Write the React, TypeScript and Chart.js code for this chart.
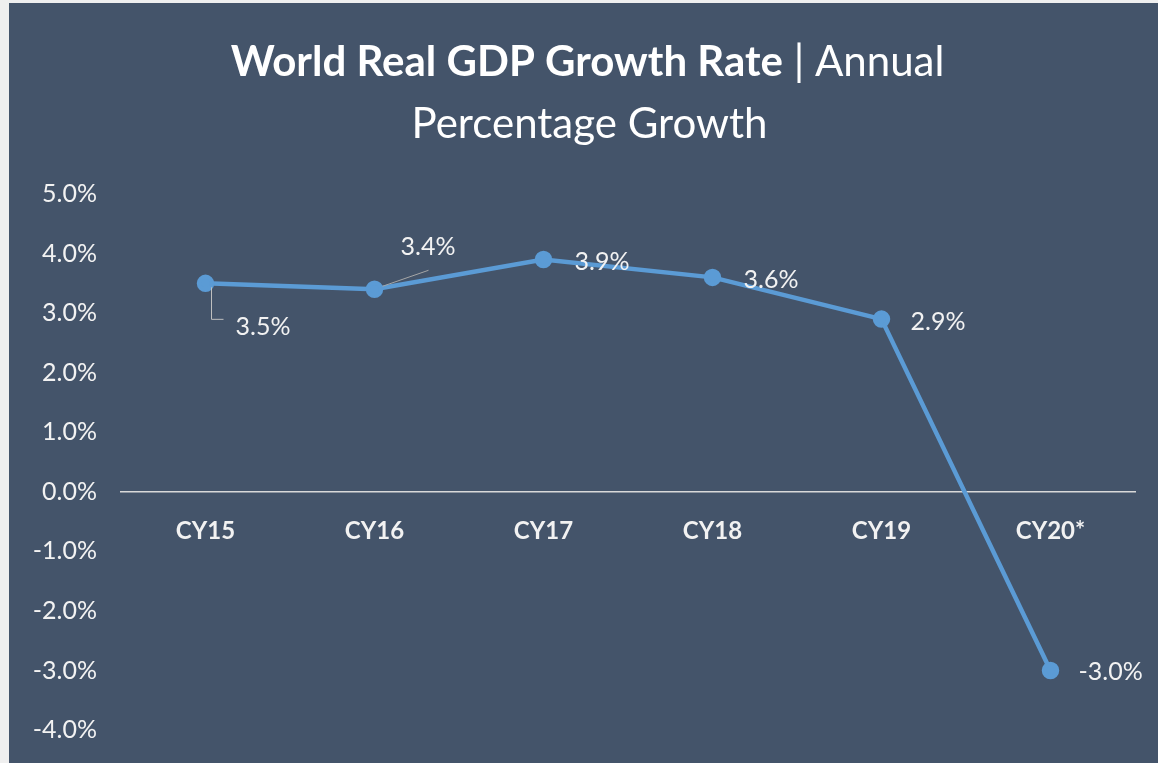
import React, { useEffect, useRef } from "react";
import { Chart, registerables } from "chart.js";

Chart.register(...registerables);

const categories = ["CY15", "CY16", "CY17", "CY18", "CY19", "CY20*"];
const growth = [3.5, 3.4, 3.9, 3.6, 2.9, -3.0];
const yTicks = [5, 4, 3, 2, 1, 0, -1, -2, -3, -4];

const TITLE_BOLD = "World Real GDP Growth Rate";
const TITLE_REST = " | Annual";
const TITLE_LINE2 = "Percentage Growth";

const FONT = "Lato, 'Open Sans', sans-serif";
const BG = "#44546A";
const LINE = "#5B9BD5";

// label placement relative to each point (style only)
const labelOffsets = [
  { dx: 30, dy: 44, leader: "elbow" },
  { dx: 26, dy: -42, leader: "diag" },
  { dx: 31, dy: 2, leader: "" },
  { dx: 31, dy: 3, leader: "" },
  { dx: 29, dy: 3, leader: "" },
  { dx: 28, dy: 1, leader: "" },
];

const titlePlugin = {
  id: "customTitle",
  afterDraw(chart: any) {
    const ctx = chart.ctx;
    const cx = chart.width / 2 + 4;
    ctx.save();
    ctx.fillStyle = "#ffffff";
    ctx.textBaseline = "middle";
    const boldFont = `bold 42px ${FONT}`;
    const regFont = `42px ${FONT}`;
    ctx.font = boldFont;
    const w1 = ctx.measureText(TITLE_BOLD).width;
    ctx.font = regFont;
    const w2 = ctx.measureText(TITLE_REST).width;
    const start = cx - (w1 + w2) / 2;
    ctx.textAlign = "left";
    ctx.font = boldFont;
    ctx.fillText(TITLE_BOLD, start, 59);
    ctx.font = regFont;
    ctx.fillText(TITLE_REST, start + w1, 59);
    ctx.textAlign = "center";
    ctx.fillText(TITLE_LINE2, cx + 2, 121);
    ctx.restore();
  },
};

const labelPlugin = {
  id: "dataLabels",
  afterDatasetsDraw(chart: any) {
    const ctx = chart.ctx;
    const meta = chart.getDatasetMeta(0);
    ctx.save();
    ctx.font = `25px ${FONT}`;
    ctx.fillStyle = "#f2f2f2";
    ctx.textAlign = "left";
    ctx.textBaseline = "middle";
    meta.data.forEach((pt: any, i: number) => {
      const o = labelOffsets[i];
      const v = growth[i];
      const text = `${v.toFixed(1)}%`;
      if (o.leader === "elbow") {
        ctx.strokeStyle = "#bfbfbf";
        ctx.lineWidth = 1;
        ctx.beginPath();
        ctx.moveTo(pt.x + 6, pt.y + 4);
        ctx.lineTo(pt.x + 6, pt.y + 36);
        ctx.lineTo(pt.x + 18, pt.y + 36);
        ctx.stroke();
      } else if (o.leader === "diag") {
        ctx.strokeStyle = "#a6a6a6";
        ctx.lineWidth = 1;
        ctx.beginPath();
        ctx.moveTo(pt.x + 8, pt.y - 3);
        ctx.lineTo(pt.x + 54, pt.y - 19);
        ctx.stroke();
      }
      ctx.fillText(text, pt.x + o.dx, pt.y + o.dy);
    });
    ctx.restore();
  },
};

export default function App() {
  const ref = useRef<HTMLCanvasElement>(null);

  useEffect(() => {
    if (!ref.current) return;
    const chart = new Chart(ref.current, {
      type: "line",
      data: {
        labels: categories,
        datasets: [
          {
            data: growth,
            borderColor: LINE,
            backgroundColor: LINE,
            borderWidth: 4.5,
            pointRadius: 6.5,
            pointBackgroundColor: LINE,
            pointBorderColor: LINE,
            tension: 0,
          },
        ],
      },
      options: {
        animation: false,
        responsive: true,
        maintainAspectRatio: false,
        layout: { padding: { top: 191, bottom: 33, left: 0, right: 23 } },
        plugins: {
          legend: { display: false },
          title: { display: false },
          tooltip: { enabled: false },
        },
        scales: {
          x: {
            type: "category",
            offset: true,
            position: { y: 0 } as any,
            afterFit: (s: any) => {
              s.height = 0;
            },
            grid: { display: false, drawTicks: false },
            border: { display: true, color: "#d9d9d9", width: 1.5 },
            ticks: {
              color: "#f2f2f2",
              font: { family: FONT, size: 24, weight: "bold" },
              padding: 25,
            },
          },
          y: {
            min: -4,
            max: 5,
            afterFit: (s: any) => {
              s.width = 112;
              s.paddingTop = 0;
              s.paddingBottom = 0;
            },
            afterBuildTicks: (s: any) => {
              s.ticks = yTicks.map((v) => ({ value: v }));
            },
            grid: { display: false, drawTicks: false },
            border: { display: false },
            ticks: {
              color: "#f2f2f2",
              font: { family: FONT, size: 25 },
              padding: 24,
              callback: (v: any) => `${Number(v).toFixed(1)}%`,
            },
          },
        },
      },
      plugins: [titlePlugin, labelPlugin],
    });
    return () => chart.destroy();
  }, []);

  return (
    <div style={{ position: "fixed", inset: 0, background: "#efefef" }}>
      <div
        style={{
          position: "absolute",
          left: 9,
          top: 3,
          right: 0,
          bottom: 0,
          background: BG,
        }}
      >
        <canvas ref={ref} />
      </div>
    </div>
  );
}
